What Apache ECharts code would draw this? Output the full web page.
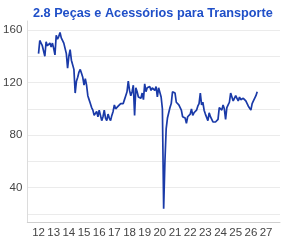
<!DOCTYPE html>
<html>
<head>
<meta charset="utf-8">
<script src="https://cdn.jsdelivr.net/npm/echarts@6/dist/echarts.min.js"></script>
<style>html,body{margin:0;padding:0;background:#fff}#c{width:285px;height:243px}</style>
</head>
<body>
<div id="c"></div>
<script>
var title = "2.8 Peças e Acessórios para Transporte";
var startYear = 2012;
var yLabels = [40, 80, 120, 160];
var xLabels = ["12","13","14","15","16","17","18","19","20","21","22","23","24","25","26","27"];
var values = [
142,152,150,148,144,140,151,148,147,150,147,150,
146,141,156,153,155,158,154,153,150,146,142,131,
140,145,137,136,130,112,121,124,128,130,127,124,
118,123,118,110,107,104,101,99,95,96,98,94,
99,95,91,94,99,93,91,96,93,91,95,98,
103,100,99,102,101,104,103,104,107,110,113,121,
114,110,113,118,95,116,113,109,109,108,112,107,
119,113,116,117,117,114,116,115,114,117,109,116,
115,109,100,24,60,85,93,97,101,104,113,114,
112,105,104,103,102,99,94,93,93,89,94,95,
96,100,95,97,97,99,102,104,112,103,105,99,
96,95,91,97,94,93,90,90,90,91,92,101,
100,99,103,100,92,101,103,105,112,109,106,107,
110,108,106,109,107,106,108,107,106,105,102,101,
99,104,106,107,110,113
];
var data = values.map(function(v,i){ return [startYear + i/12, v]; });
var chart = echarts.init(document.getElementById('c'), null, {renderer:'canvas'});
var font = "'Liberation Sans', Arial, sans-serif";
chart.setOption({
  animation:false,
  title:{text:title, left:28, top:2,
    textStyle:{color:'#1f4fc8', fontSize:12.7, fontWeight:'bold', fontFamily:font}},
  grid:{left:27.3, right:5, top:21, bottom:20.7, containLabel:false},
  xAxis:{type:'value', min:2011.26, max:2027.92, minInterval:1, maxInterval:1,
    axisLine:{show:true, lineStyle:{color:'#cfcfcf', width:1}},
    axisTick:{show:false},
    splitLine:{show:false},
    axisLabel:{color:'#444', fontSize:11.5, fontFamily:font, margin:5,
      formatter:function(v){ var r=Math.round(v); if(Math.abs(v-r)>1e-6) return ''; var idx=r-2012; return (idx>=0 && idx<xLabels.length)? xLabels[idx] : ''; }}
  },
  yAxis:{type:'value', min:13.7, max:166.8, minInterval:20, maxInterval:20,
    axisLine:{show:true, lineStyle:{color:'#dcdcdc', width:1}},
    axisTick:{show:false},
    splitLine:{show:true, showMinLine:false, showMaxLine:false, lineStyle:{color:'#ebebeb', width:1}},
    axisLabel:{color:'#444', fontSize:11.5, fontFamily:font, margin:5,
      formatter:function(v){ var r=Math.round(v); if(Math.abs(v-r)>1e-6) return ''; return yLabels.indexOf(r)>=0 ? String(r) : ''; }}
  },
  series:[{type:'line', data:data, showSymbol:false, symbol:'none',
    lineStyle:{color:'#1a3aa8', width:1.7}}]
});
</script>
</body>
</html>
